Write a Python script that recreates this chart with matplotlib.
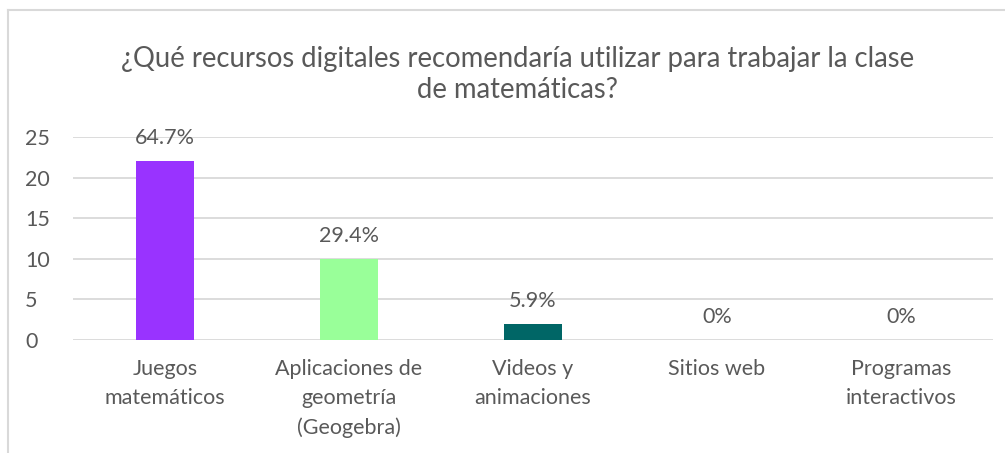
import matplotlib.pyplot as plt
from matplotlib.lines import Line2D

categorias = ["Juegos\nmatemáticos", "Aplicaciones de\ngeometría\n(Geogebra)",
              "Videos y\nanimaciones", "Sitios web", "Programas\ninteractivos"]
valores = [22, 10, 2, 0, 0]
etiquetas = ["64.7%", "29.4%", "5.9%", "0%", "0%"]
colores = ["#9933FF", "#99FF99", "#006666", "#4472C4", "#4472C4"]

plt.rcParams['font.family'] = ['Lato', 'DejaVu Sans']
gris = "#595959"

fig = plt.figure(figsize=(10.05, 4.53), dpi=100)
ax = fig.add_axes([0.0726, 0.2494, 0.9154, 0.4482])

x = range(len(categorias))
ax.bar(x, valores, width=0.315, color=colores, zorder=3)
for i, (v, t) in enumerate(zip(valores, etiquetas)):
    ax.annotate(t, (i, v), xytext=(0, 16.5), textcoords="offset points",
                ha="center", va="center", fontsize=15.5, color=gris, zorder=4)

ax.set_xlim(-0.5, len(categorias) - 0.5)
ax.set_ylim(0, 25)
ax.set_yticks(range(0, 26, 5))
ax.yaxis.grid(True, color="#d9d9d9", linewidth=1.3, zorder=0)
ax.set_xticks(list(x))
ax.set_xticklabels(categorias, linespacing=1.55)
ax.tick_params(axis="both", length=0, labelsize=15.5, colors=gris)
ax.tick_params(axis="x", pad=14)
ax.tick_params(axis="y", pad=34.5)
for lbl in ax.get_yticklabels():
    lbl.set_horizontalalignment("left")
for s in ax.spines.values():
    s.set_visible(False)

fig.text(0.515, 0.836, "¿Qué recursos digitales recomendaría utilizar para trabajar la clase\nde matemáticas?",
         ha="center", va="center", fontsize=19.8, color=gris, linespacing=1.25)

# marco del gráfico
fig.add_artist(Line2D([8 / 1005, 1], [1 - 10 / 453, 1 - 10 / 453], transform=fig.transFigure,
                      color="#d9d9d9", linewidth=1.5))
fig.add_artist(Line2D([8 / 1005, 8 / 1005], [0, 1 - 10 / 453], transform=fig.transFigure,
                      color="#d9d9d9", linewidth=1.5))

fig.savefig("out.png", dpi=100)
